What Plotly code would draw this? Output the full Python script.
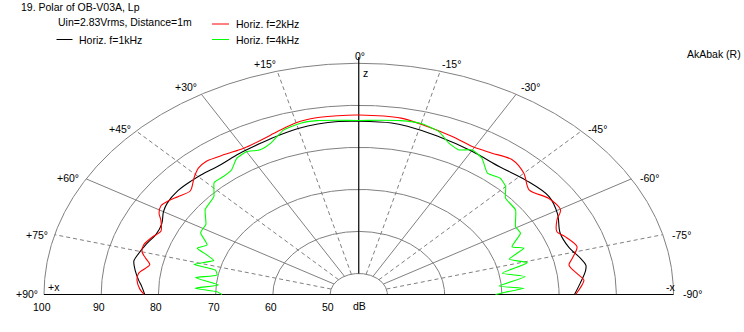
import numpy as np
import plotly.graph_objects as go

# ---------------- data (angle in degrees, +90 = left side; level in dB) -------------
ANG_1K = [90, 87, 85, 82, 78.5, 77, 72, 68, 64, 60, 57, 52, 47, 44, 38, 32, 25, 20, 15, 10, 5, 0,
          -8, -12, -20, -30, -39, -47, -55, -61, -67.5, -73, -77.5, -80, -82, -86, -90]
DB_1K = [82.4, 83.0, 83.6, 84.4, 85.1, 84.9, 84.0, 83.2, 83.3, 84.4, 84.9, 85.1, 84.8, 84.6, 84.2, 84.5,
         84.9, 85.4, 85.9, 86.2, 86.3, 86.2,
         86.2, 85.9, 85.1, 84.4, 84.1, 84.9, 85.6, 84.7, 83.1, 83.4, 84.7, 85.3, 85.0, 83.8, 82.7]

ANG_2K = [90, 88, 85, 82.5, 79, 77, 75, 72.5, 69, 66.5, 63, 61, 58.5, 56, 53.5, 50, 46, 43, 40, 35, 30,
          25, 20, 15, 10, 5, 0,
          -10, -15.4, -23.5, -29.4, -34.7, -39.9, -45, -50.1, -55.4, -60.3, -62.9, -66.7, -69.1, -73.4,
          -77, -79.2, -83.1, -85, -90]
DB_2K = [82.5, 83.3, 83.9, 83.8, 82.2, 83.2, 84.2, 84.4, 83.5, 82.7, 83.8, 84.9, 85.5, 85.0, 84.2, 83.4,
         85.0, 86.1, 86.4, 85.7, 85.2, 85.5, 86.3, 87.3, 87.7, 87.7, 87.7,
         87.6, 86.9, 86.0, 85.4, 85.9, 86.8, 85.8, 83.8, 85.3, 85.6, 83.9, 82.7, 83.6, 84.8,
         83.3, 82.4, 83.7, 84.5, 82.9]

ANG_4K = [90, 88.5, 87, 84.7, 82, 79.4, 77, 76, 72.3, 70.5, 68.7, 66, 62, 58, 53, 47.4, 43.5, 40, 37,
          33.3, 30, 26.6, 23, 18.5, 14, 10, 5, 0,
          -5, -10, -15, -19.9, -23.6, -27, -30, -33.6, -37.9, -41.8, -45, -48.2, -53.7, -59.5, -62.7,
          -67, -69.1, -72.3, -75.6, -78.6, -81.7, -85.3, -87.1, -88.8, -90]
DB_4K = [68.9, 69.8, 73.6, 69.6, 73.8, 70.2, 70.7, 74.7, 71.6, 73.1, 75.3, 74.0, 76.3, 76.5, 78.6, 79.4,
         81.7, 81.7, 82.0, 83.8, 84.2, 83.5, 84.2, 86.3, 87.0, 87.0, 86.6, 86.4,
         86.6, 87.0, 87.1, 86.2, 84.3, 83.6, 84.7, 83.9, 81.6, 82.1, 81.3, 79.4, 79.0, 76.8, 76.8,
         74.1, 75.9, 72.6, 75.4, 70.6, 74.4, 69.6, 73.9, 70.6, 68.9]

RINGS = [50, 60, 70, 80, 90, 100]
RING_LABELS = ["50", "60", "70", "80", "90", "100"]
SPOKES = [75, 60, 45, 30, 15, -15, -30, -45, -60, -75]
SPOKE_LABELS = ["+75°", "+60°", "+45°", "+30°", "+15°", "-15°", "-30°", "-45°", "-60°", "-75°"]

R0 = 45.0   # level at the centre of the diagram
W, H = 744, 332
CX, CY = 358.75, 294.5          # centre in pixels
SX, SY = 314.75 / 55.0, 231.2 / 55.0   # px per dB horizontally / vertically

GREY = "#808080"
FONT = "Liberation Sans, Arial, sans-serif"


def xy(ang, db):
    a = np.radians(np.asarray(ang, dtype=float))
    r = np.asarray(db, dtype=float) - R0
    return -r * np.sin(a), r * np.cos(a)


fig = go.Figure()

# rings
th = np.linspace(90, -90, 721)
for rv in RINGS:
    x, y = xy(th, np.full_like(th, rv))
    fig.add_trace(go.Scatter(x=x, y=y, mode="lines", line=dict(color=GREY, width=1),
                             hoverinfo="skip", showlegend=False))
# spokes
for a in SPOKES:
    x, y = xy([a, a], [RINGS[0], RINGS[-1]])
    dash = "solid" if a % 30 == 0 else "4px,3px"
    fig.add_trace(go.Scatter(x=x, y=y, mode="lines", line=dict(color=GREY, width=1, dash=dash),
                             hoverinfo="skip", showlegend=False))
# axes (black)
x, y = xy([0, 0], [RINGS[0], 101.5])
fig.add_trace(go.Scatter(x=x, y=y, mode="lines", line=dict(color="black", width=1.2),
                         hoverinfo="skip", showlegend=False))
x, y = xy([90, -90], [100, 100])
fig.add_trace(go.Scatter(x=x, y=[0, 0], mode="lines", line=dict(color="black", width=1.2),
                         hoverinfo="skip", showlegend=False))

# curves
for ang, db, col, sm in [(ANG_1K, DB_1K, "#000000", 1.0),
                         (ANG_2K, DB_2K, "#ff0000", 0.8),
                         (ANG_4K, DB_4K, "#00ff00", 0.5)]:
    x, y = xy(ang, db)
    fig.add_trace(go.Scatter(x=x, y=y, mode="lines",
                             line=dict(color=col, width=1.1, shape="spline", smoothing=sm),
                             hoverinfo="skip", showlegend=False))

ann = []


def ptxt(px, py, text, xa="left", ya="middle"):
    ann.append(dict(x=px / W, y=1 - py / H, xref="paper", yref="paper", text=text,
                    showarrow=False, xanchor=xa, yanchor=ya, borderpad=0,
                    font=dict(family=FONT, size=10.5, color="black")))


# spoke labels at ring 100
shifts = {75: (-6, 0), 60: (-6, 1), 45: (-4, 2), 30: (-3, 0), 15: (0, 0),
          -15: (1, 0), -30: (4, 0), -45: (6, 2), -60: (8, 1), -75: (8, 0)}
for a, lab in zip(SPOKES, SPOKE_LABELS):
    x, y = xy([a], [RINGS[-1]])
    xa = "right" if a > 0 else "left"
    ya = "bottom" if abs(a) <= 30 else "middle"
    dx, dy = shifts[a]
    ann.append(dict(x=float(x[0]), y=float(y[0]), xref="x", yref="y", text=lab, showarrow=False,
                    xanchor=xa, yanchor=ya, xshift=dx, yshift=dy, borderpad=0,
                    font=dict(family=FONT, size=10.5, color="black")))
ptxt(360, 56, "0°", xa="center")
ptxt(38.5, 293.5, "+90°", xa="right")
ptxt(682, 293.5, "-90°", xa="left")

# ring labels below the baseline
for rv, lab in zip(RINGS, RING_LABELS):
    x, _ = xy([90], [rv])
    ann.append(dict(x=float(x[0]), y=0, xref="x", yref="y", text=lab, showarrow=False,
                    xanchor="center", yanchor="top", xshift=-2, yshift=-5, borderpad=0,
                    font=dict(family=FONT, size=10.5, color="black")))
ptxt(359.5, 306, "dB", xa="center")

ptxt(46.5, 287, "+x")
ptxt(664.5, 287, "-x")
ptxt(361.5, 73, "z")

# header and legend
ptxt(20, 7.5, "19. Polar of OB-V03A, Lp")
ptxt(56.5, 22.5, "Uin=2.83Vrms, Distance=1m")
ptxt(78, 40, "Horiz. f=1kHz")
ptxt(235, 24, "Horiz. f=2kHz")
ptxt(235, 40, "Horiz. f=4kHz")
ptxt(742, 54, "AkAbak (R)", xa="right")

shapes = []
for x0, x1, yy, col in [(56.5, 72.5, 39.5, "black"), (212, 229, 24, "#ff0000"), (212, 229, 39.5, "#00ff00")]:
    shapes.append(dict(type="line", xref="paper", yref="paper", x0=x0 / W, x1=x1 / W,
                       y0=1 - yy / H, y1=1 - yy / H, line=dict(color=col, width=1)))

fig.update_layout(
    width=W, height=H, margin=dict(l=0, r=0, t=0, b=0),
    paper_bgcolor="white", plot_bgcolor="white",
    xaxis=dict(range=[-CX / SX, (W - CX) / SX], visible=False, fixedrange=True),
    yaxis=dict(range=[(CY - H) / SY, CY / SY], visible=False, fixedrange=True),
    annotations=ann, shapes=shapes, showlegend=False,
)

fig.write_html("out.html")
